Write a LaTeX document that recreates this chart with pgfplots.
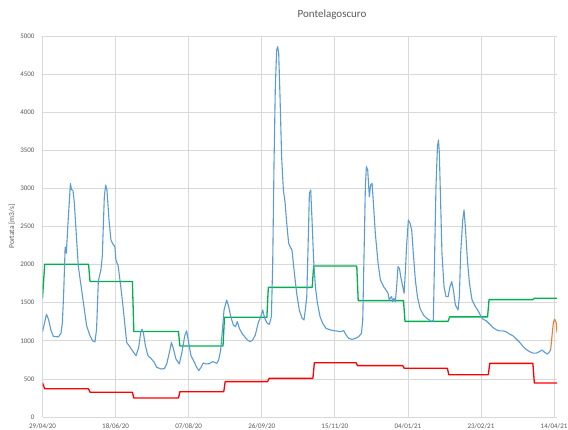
\documentclass[border=0pt]{standalone}
\usepackage{fontspec}
\setmainfont{Carlito}
\usepackage{pgfplots}
\pgfplotsset{compat=1.18}
\definecolor{xlblue}{HTML}{5B9BD5}
\definecolor{xlgreen}{HTML}{00B050}
\definecolor{xlred}{HTML}{FF0000}
\definecolor{xlorange}{HTML}{ED7D31}
\definecolor{gridgray}{HTML}{D9D9D9}
\definecolor{labelgray}{HTML}{595959}
\begin{document}
\begin{tikzpicture}[x=1pt,y=1pt]
\useasboundingbox (0,0) rectangle (568,430);
\begin{axis}[
  at={(42.5pt,13pt)}, anchor=south west,
  scale only axis, width=514.5pt, height=381pt,
  xmin=0, xmax=352, ymin=0, ymax=5000,
  xtick={0,50,...,350},
  xticklabels={29/04/20,18/06/20,07/08/20,26/09/20,15/11/20,04/01/21,23/02/21,14/04/21},
  ytick={0,500,...,5000},
  grid=major, grid style={draw=gridgray, line width=0.7pt},
  axis lines*=left, axis line style={draw=gridgray, line width=0.7pt, -},
  major tick length=0pt,
  tick label style={font=\fontsize{7}{8}\selectfont, text=labelgray},
  /pgf/number format/assume math mode=true,
  /pgf/number format/1000 sep={},
  yticklabel style={anchor=east, xshift=-4.5pt},
  xticklabel style={anchor=base, yshift=-12pt},
  ylabel={Portata [m3/s]},
  ylabel style={at={(axis description cs:-0.0593,0.5)}, anchor=center, font=\fontsize{7.5}{9}\selectfont, text=labelgray},
  title={Pontelagoscuro},
  title style={at={(axis description cs:0.5627,1)}, anchor=base, yshift=12.5pt, font=\fontsize{11}{13}\selectfont, text=labelgray},
  line join=round,
]
% red series
\addplot[xlred, line width=1.3pt] coordinates {
(0,450) (1.5,370) (31.5,370) (32.5,326) (61.5,326) (62.5,248) (93,248) (94,332)
(124,332) (125,464) (154,464) (155,507) (185,507) (186,713) (214.5,713) (215.5,674)
(246.5,674) (247.5,639) (277,639) (278,555) (305,555) (306,704) (335.5,704) (336.5,446) (352,446)
};
% green series
\addplot[xlgreen, line width=1.3pt] coordinates {
(0,1555) (1.5,2005) (31.5,2005) (32.5,1778) (61.5,1778) (62.5,1122) (93,1122) (94,932)
(123.5,932) (124.5,1308) (153.5,1308) (154.5,1701) (184.5,1701) (185.5,1981) (215,1981) (216,1527)
(247,1527) (248,1255) (277.5,1255) (278.5,1314) (304.5,1314) (305.5,1540) (335.5,1540) (336.5,1558) (352,1558)
};
% blue series
\addplot[xlblue, line width=1.1pt] coordinates {
(0,1117) (2.7,1348) (4.1,1283) (5.9,1130) (7.5,1057) (10.9,1052) (12.7,1100) (13.6,1239)
(14.5,1630) (15.5,2230) (16.3,2150) (17.5,2560) (19.1,3065) (19.8,2987) (20.9,2970) (21.8,2804)
(23.2,2370) (24.5,1978) (26.4,1717) (28,1500) (30.2,1196) (32.5,1065) (34.3,1000) (35.9,987)
(37,1152) (38.2,1783) (40,1935) (40.9,2109) (42.3,2891) (43.2,3044) (44.1,2978) (45.5,2587)
(46.8,2326) (48.4,2261) (49.5,2239) (50.2,2065) (51.8,1978) (53.5,1717) (55.3,1413) (57.6,978)
(59.6,925) (62.2,852) (64,804) (65.8,913) (67.2,1109) (68.1,1152) (69,1109) (70.4,935)
(72.2,804) (74.2,770) (76.5,717) (78.1,652) (81.1,630) (83.4,635) (85,696) (86.8,848)
(88.2,978) (89.5,900) (91.3,761) (93.6,696) (95.4,848) (97.3,1065) (98.6,1130) (100,978)
(101.6,804) (103.9,717) (105.5,652) (106.9,609) (108.5,652) (110,709) (111.9,696) (114.2,700)
(116.4,726) (118,715) (119.2,704) (120.5,748) (121.9,879) (123.1,1142) (124.2,1404) (126,1535)
(127.4,1448) (128.8,1317) (130.6,1207) (132,1185) (133.3,1251) (134.7,1163) (136.5,1098) (138.3,1054)
(140.2,1010) (142,989) (143.8,1010) (145.6,1076) (147.5,1229) (149.3,1317) (150.7,1404) (152,1295)
(153.8,1229) (155.2,1216) (156.6,1317) (157.5,2016) (158.4,3329) (159.3,4335) (160.2,4816) (160.9,4860)
(161.6,4772) (162.5,4203) (163.6,3416) (164.8,2979) (165.9,2826) (167.1,2541) (168.4,2279) (169.4,2235)
(170.7,2191) (172.1,1929) (173.9,1623) (175.7,1404) (177.6,1295) (178.9,1273) (179.8,1404) (180.8,1579)
(181.7,2235) (182.6,2935) (183.5,2979) (184.4,2585) (185.5,2060) (186.7,1710) (188.1,1492) (189.9,1317)
(191.7,1229) (194,1163) (197,1142) (199.2,1133) (201.5,1128) (203.8,1120) (206.1,1133) (207.7,1076)
(209.5,1032) (211.8,1019) (214.1,1032) (216.3,1054) (218.2,1098) (219.1,1273) (220,2148) (220.9,3022)
(221.6,3285) (222.5,3241) (223.6,2891) (224.5,3044) (225.5,3066) (226.4,2804) (227.7,2410) (229.6,2016)
(231.2,1798) (233.4,1710) (235,1667) (236.4,1623) (237.3,1535) (238.2,1570) (238.9,1579) (239.6,1513)
(240.5,1557) (241.4,1513) (242.3,1710) (243.2,1973) (244.2,1951) (245.1,1841) (246,1754) (247.4,1623)
(248.3,1929) (249.2,2279) (250.3,2585) (251.5,2541) (252.6,2454) (253.7,2148) (255.1,1798) (256.5,1579)
(258.3,1426) (260.6,1338) (262.9,1295) (264.7,1273) (266.3,1251) (267.4,1273) (268.3,2148) (269.2,3022)
(270.2,3547) (270.9,3635) (271.5,3460) (272.4,2804) (273.3,2148) (274.7,1710) (276.1,1579) (277.5,1579)
(278.8,1710) (280,1776) (281.1,1667) (282.5,1470) (284.3,1404) (285.2,1579) (286.1,2148) (287.5,2585)
(288.4,2716) (289.3,2498) (290.7,2060) (292.1,1754) (293.9,1535) (296.2,1448) (298.4,1382) (299.8,1326)
(301.4,1283) (303.7,1261) (306,1217) (308.2,1174) (310.5,1144) (312.8,1130) (315.1,1130) (317.4,1117)
(319.6,1087) (321.9,1065) (324.2,1022) (326.5,978) (328.8,926) (331.1,883) (333.3,857) (335.6,839)
(337.9,839) (340.2,861) (341.8,878) (343.6,848) (345.4,826) (347,857) (347.7,891)
};
% orange series
\addplot[xlorange, line width=1.1pt] coordinates {
(347.7,891) (348.6,1065) (349.5,1239) (350.4,1283) (351.4,1239) (352,1109)
};
\end{axis}
\end{tikzpicture}
\end{document}
